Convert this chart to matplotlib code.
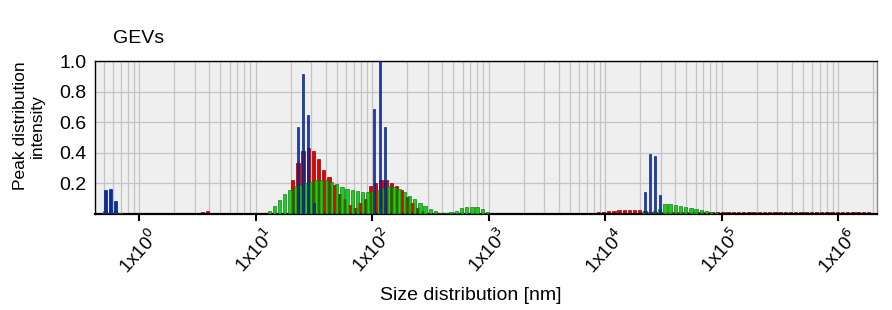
import numpy as np
import matplotlib
matplotlib.use("Agg")
import matplotlib.pyplot as plt
from matplotlib.ticker import FixedLocator, LogLocator, NullFormatter

plt.rcParams['font.family'] = ['Liberation Sans', 'DejaVu Sans']

# log10 spacing between neighbouring size bins
STEP = 0.0446

# blue series: single spikes (size nm, intensity)
blue_left_nm = [0.516, 0.569, 0.631]
blue_left_h = [0.16, 0.165, 0.085]
blue_nm = [23.03, 25.73, 28.39, 31.97, 104.6, 117.1, 130.1,
           22040, 24480, 27030, 29830]
blue_h = [0.567, 0.915, 0.647, 0.07, 0.686, 1.0, 0.57,
          0.142, 0.392, 0.38, 0.124]

# green series: (first bin size nm, heights of consecutive bins)
green_a_start = 0.511
green_a = [0.02, 0.025, 0.02, 0.008]
green_b_start = 13.11
green_b = [0.02, 0.055, 0.09, 0.13, 0.157, 0.18, 0.19, 0.2, 0.21, 0.22,
           0.225, 0.22, 0.21, 0.195, 0.175, 0.165, 0.155, 0.15, 0.145, 0.145,
           0.15, 0.16, 0.17, 0.18, 0.175, 0.165, 0.146, 0.118, 0.098, 0.07,
           0.052, 0.03, 0.017, 0.009, 0.007, 0.015, 0.022, 0.037, 0.044, 0.048,
           0.044, 0.03, 0.01]
green_c_start = 21620
green_c = [0.012, 0.015, 0.02, 0.03, 0.063, 0.063, 0.06, 0.055, 0.048, 0.04,
           0.033, 0.027, 0.02, 0.013, 0.007]

# red series
red_a_start = 3.508
red_a = [0.012, 0.02]
red_b_start = 20.82
red_b = [0.22, 0.335, 0.41, 0.43, 0.41, 0.36, 0.29, 0.245, 0.19, 0.13,
         0.095, 0.06, 0.04, 0.07, 0.1, 0.18, 0.2, 0.22, 0.225, 0.2,
         0.18, 0.16, 0.11, 0.07, 0.04, 0.02]
red_c_start = 7889
red_c = [0.005, 0.01, 0.016, 0.02, 0.022, 0.024, 0.025, 0.026, 0.026, 0.026,
         0.02, 0.016, 0.014, 0.014, 0.015, 0.015, 0.015, 0.016, 0.015, 0.015,
         0.015, 0.015, 0.015, 0.015, 0.015, 0.015, 0.015, 0.015, 0.015, 0.015,
         0.015, 0.015, 0.015, 0.015, 0.015, 0.015, 0.015, 0.015, 0.015, 0.015,
         0.015, 0.015, 0.015, 0.015, 0.015, 0.014, 0.014, 0.014, 0.014, 0.014,
         0.013, 0.013, 0.013, 0.012]

xticks = [1e0, 1e1, 1e2, 1e3, 1e4, 1e5, 1e6]
xticklabels = [r'1x10$^{%d}$' % i for i in range(7)]
yticks = [0.2, 0.4, 0.6, 0.8, 1.0]

GREEN = '#00c400'
RED = '#e80000'
BLUE = '#0a2aa8'


def segment_centers(start, n):
    return start * 10 ** (STEP * np.arange(n))


def log_bars(ax, centers, heights, width_dec, **kw):
    centers = np.asarray(centers, dtype=float)
    left = centers * 10 ** (-width_dec / 2)
    width = centers * 10 ** (width_dec / 2) - left
    ax.bar(left, heights, width=width, align='edge', **kw)


fig = plt.figure(figsize=(8.92, 3.10), dpi=100)
ax = fig.add_axes([0.1065, 0.3097, 0.8767, 0.4935])
ax.set_facecolor('#efefef')
ax.set_xscale('log')
ax.set_xlim(0.419, 2.16e6)
ax.set_ylim(0, 1.0)

# grid
ax.xaxis.set_minor_locator(LogLocator(base=10, subs=np.arange(2, 10), numticks=50))
ax.xaxis.set_minor_formatter(NullFormatter())
ax.grid(True, which='both', axis='x', color='#c4c4c4', lw=0.9)
ax.grid(True, which='major', axis='y', color='#c4c4c4', lw=0.9)
ax.set_axisbelow(True)

W = 0.029
for start, vals in [(red_a_start, red_a), (red_b_start, red_b), (red_c_start, red_c)]:
    log_bars(ax, segment_centers(start, len(vals)), vals, W,
             color=RED, edgecolor='#900000', linewidth=0.5, zorder=2)
for start, vals in [(green_a_start, green_a), (green_b_start, green_b), (green_c_start, green_c)]:
    log_bars(ax, segment_centers(start, len(vals)), vals, W,
             color=GREEN, edgecolor='#086a08', linewidth=0.5, alpha=0.85, zorder=3)
log_bars(ax, blue_left_nm, blue_left_h, 0.03,
         color=BLUE, edgecolor='#06206e', linewidth=0.5, zorder=4)
log_bars(ax, blue_nm, blue_h, 0.018,
         color=BLUE, edgecolor='#06206e', linewidth=0.5, alpha=0.9, zorder=4)

ax.xaxis.set_major_locator(FixedLocator(xticks))
ax.set_xticklabels(xticklabels, rotation=48, ha='center', va='top', fontsize=13.5)
ax.tick_params(axis='x', which='major', direction='out', length=5, width=1.5, pad=3)
ax.tick_params(axis='x', which='minor', length=0)
ax.set_yticks(yticks)
ax.set_yticklabels(['0.2', '0.4', '0.6', '0.8', '1.0'], fontsize=14)
ax.tick_params(axis='y', length=0, pad=6)

for s in ax.spines.values():
    s.set_color('black')
    s.set_linewidth(1.0)
ax.spines['bottom'].set_linewidth(1.6)
ax.spines['right'].set_color('#888888')

ax.set_xlabel('Size distribution [nm]', fontsize=14)
ax.xaxis.set_label_coords(0.481, -0.475)
ax.set_ylabel('Peak distribution\nintensity', fontsize=12.5)
ax.yaxis.set_label_coords(-0.064, 0.575)
fig.text(0.127, 0.875, 'GEVs', fontsize=14, ha='left', va='center')

fig.savefig('out.png', dpi=100)
